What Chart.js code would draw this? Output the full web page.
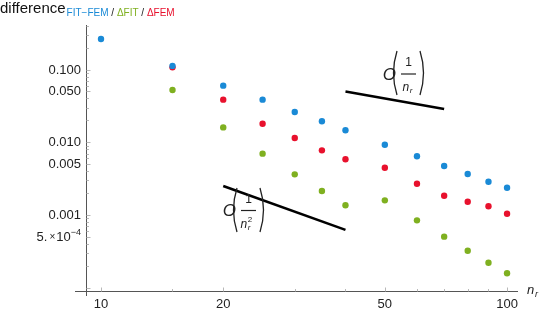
<!DOCTYPE html>
<html><head><meta charset="utf-8">
<script src="https://cdn.jsdelivr.net/npm/chart.js@4"></script>
<style>html,body{margin:0;padding:0;background:#fff}#wrap{width:540px;height:311px;position:relative}</style>
</head><body><div id="wrap"><canvas id="c" width="540" height="311"></canvas></div>
<script>
const nr = [10,15,20,25,30,35,40,50,60,70,80,90,100];
const fitFem = [0.262,0.112,0.060,0.0385,0.0261,0.0194,0.0146,0.00925,0.00641,0.00472,0.00366,0.00287,0.00237];
const dFem = [null,0.107,0.0385,0.0180,0.01143,0.00774,0.00583,0.00447,0.00269,0.00184,0.00152,0.00132,0.00104];
const dFit = [null,0.0522,0.0160,0.00697,0.00362,0.00214,0.00136,0.00159,0.000845,0.000504,0.000323,0.000221,0.000158];
const slope1X = [40,70];
const slope1Y = [0.05,0.02857];
const slope2X = [20,40];
const slope2Y = [0.0025,0.000625];
const xTicks = [10,20,50,100];
const xTickLabels = ['10','20','50','100'];
const xMinorTicks = [15,30,40,60,70,80,90];
const yTicks = [0.1,0.05,0.01,0.005,0.001];
const yTickLabels = ['0.100','0.050','0.010','0.005','0.001'];
const COL_BLUE = '#1a8ad6', COL_GREEN = '#7fb020', COL_RED = '#e8112d';

const pts = (xs, ys) => xs.map((x,i)=>({x:x, y:ys[i]})).filter(p=>p.y!=null);

const axesPlugin = {
  id:'axesPlugin',
  afterDraw(chart){
    const ctx = chart.ctx, xs = chart.scales.x, ys = chart.scales.y;
    const ca = chart.chartArea;
    const ax = ca.left + 0.5, ay = Math.round(ca.bottom) + 0.5;
    ctx.save();
    ctx.strokeStyle = '#555'; ctx.lineWidth = 1;
    ctx.beginPath(); ctx.moveTo(75, ay); ctx.lineTo(ca.right, ay); ctx.stroke();
    ctx.beginPath(); ctx.moveTo(ax, ca.top); ctx.lineTo(ax, 296); ctx.stroke();
    ctx.strokeStyle = '#b8b8b8';
    xTicks.forEach(v=>{const px=Math.round(xs.getPixelForValue(v))+0.5;ctx.beginPath();ctx.moveTo(px,ay);ctx.lineTo(px,ay-4);ctx.stroke();});
    xMinorTicks.forEach(v=>{const px=Math.round(xs.getPixelForValue(v))+0.5;ctx.beginPath();ctx.moveTo(px,ay);ctx.lineTo(px,ay-2.5);ctx.stroke();});
    for(let d=-4; d<=-1; d++){
      for(let m=1; m<=9; m++){
        const v = m*Math.pow(10,d);
        if(v < ys.min || v > ys.max) continue;
        const major = (m===1||m===5);
        const py = Math.round(ys.getPixelForValue(v))+0.5;
        ctx.beginPath(); ctx.moveTo(ax,py); ctx.lineTo(ax+(major?4:2.5),py); ctx.stroke();
      }
    }
    ctx.fillStyle = '#222';
    ctx.font = '13px "Liberation Sans", Arial, sans-serif';
    ctx.textAlign = 'center'; ctx.textBaseline = 'middle';
    xTicks.forEach((v,i)=>{ctx.fillText(xTickLabels[i], xs.getPixelForValue(v), 304);});
    ctx.textAlign = 'right';
    yTicks.forEach((v,i)=>{ctx.fillText(yTickLabels[i], 81, ys.getPixelForValue(v)+0.5);});
    const y5 = ys.getPixelForValue(0.0005)+0.5;
    ctx.font = '9px "Liberation Sans", Arial, sans-serif';
    const supW = ctx.measureText('\u22124').width;
    ctx.textAlign='left';
    ctx.fillText('\u22124', 81-supW, y5-5);
    ctx.font = '13px "Liberation Sans", Arial, sans-serif';
    const tenW = ctx.measureText('10').width;
    ctx.textAlign='right';
    ctx.fillText('10', 81-supW, y5);
    ctx.font = '10px "Liberation Sans", Arial, sans-serif';
    const xW = ctx.measureText('\u00d7').width;
    ctx.fillText('\u00d7', 81-supW-tenW-1, y5);
    ctx.font = '13px "Liberation Sans", Arial, sans-serif';
    ctx.fillText('5.', 81-supW-tenW-xW-3, y5);
    ctx.textAlign='left'; ctx.textBaseline='alphabetic';
    ctx.font = '15px "Liberation Sans", Arial, sans-serif';
    ctx.fillStyle='#111';
    ctx.fillText('difference', 0, 13);
    let x0 = ctx.measureText('difference').width + 1;
    ctx.font = '10px "Liberation Sans", Arial, sans-serif';
    const parts = [['FIT\u2212FEM',COL_BLUE],[' / ','#222'],['\u0394FIT',COL_GREEN],[' / ','#222'],['\u0394FEM',COL_RED]];
    parts.forEach(p=>{ctx.fillStyle=p[1]; ctx.fillText(p[0], x0, 16); x0 += ctx.measureText(p[0]).width;});
    ctx.fillStyle='#222';
    ctx.font = 'italic 13px "Liberation Sans", Arial, sans-serif';
    ctx.fillText('n', 527, 294);
    ctx.font = 'italic 9px "Liberation Sans", Arial, sans-serif';
    ctx.fillText('r', 535, 297);
    function paren(x, y1, y2, dir){
      ctx.beginPath(); ctx.moveTo(x, y1); ctx.quadraticCurveTo(x - dir*7, (y1+y2)/2, x, y2);
      ctx.lineWidth = 1.3; ctx.strokeStyle='#222'; ctx.stroke();
    }
    function bigO(cy, lx, rx, top, bot, sq){
      ctx.fillStyle='#222';
      ctx.font = 'italic 17px "Liberation Sans", Arial, sans-serif';
      ctx.textAlign='right'; ctx.textBaseline='middle';
      ctx.fillText('O', lx-1, cy+1);
      paren(lx, top, bot, 1);
      paren(rx, top, bot, -1);
      const mx = (lx+rx)/2;
      ctx.lineWidth = 1.2;
      ctx.beginPath(); ctx.moveTo(lx+4, cy); ctx.lineTo(rx-4, cy); ctx.stroke();
      ctx.textAlign='center';
      ctx.font = '12px "Liberation Sans", Arial, sans-serif';
      ctx.fillText('1', mx, cy-11);
      ctx.font = 'italic 12px "Liberation Sans", Arial, sans-serif';
      ctx.textAlign='left';
      const nw = ctx.measureText('n').width;
      const nx = mx - (sq? 8:6);
      ctx.fillText('n', nx, cy+14);
      ctx.font = 'italic 8px "Liberation Sans", Arial, sans-serif';
      ctx.fillText('r', nx+nw+0.5, cy+17);
      if(sq){ ctx.font='8px "Liberation Sans", Arial, sans-serif'; ctx.fillText('2', nx+nw+0.5, cy+9); }
    }
    bigO(74,397,420,51,95,false);
    bigO(210.5,237,260,188,232,true);
    ctx.restore();
  }
};

new Chart(document.getElementById('c'), {
  type:'scatter',
  data:{datasets:[
    {label:'FIT-FEM', data:pts(nr,fitFem), backgroundColor:COL_BLUE, pointRadius:3.2, borderWidth:0},
    {label:'dFEM', data:pts(nr,dFem), backgroundColor:COL_RED, pointRadius:3.2, borderWidth:0},
    {label:'dFIT', data:pts(nr,dFit), backgroundColor:COL_GREEN, pointRadius:3.2, borderWidth:0},
    {label:'O1', data:pts(slope1X,slope1Y), showLine:true, borderColor:'#000', borderWidth:2.6, pointRadius:0},
    {label:'O2', data:pts(slope2X,slope2Y), showLine:true, borderColor:'#000', borderWidth:2.6, pointRadius:0}
  ]},
  options:{
    responsive:false, animation:false, devicePixelRatio:1,
    layout:{padding:{left:86,right:22,top:25,bottom:20.5}},
    plugins:{legend:{display:false}, tooltip:{enabled:false}},
    scales:{
      x:{type:'logarithmic', min:9.185, max:106.4, display:false},
      y:{type:'logarithmic', min:0.0000917, max:0.409, display:false}
    }
  },
  plugins:[axesPlugin]
});
</script></body></html>
